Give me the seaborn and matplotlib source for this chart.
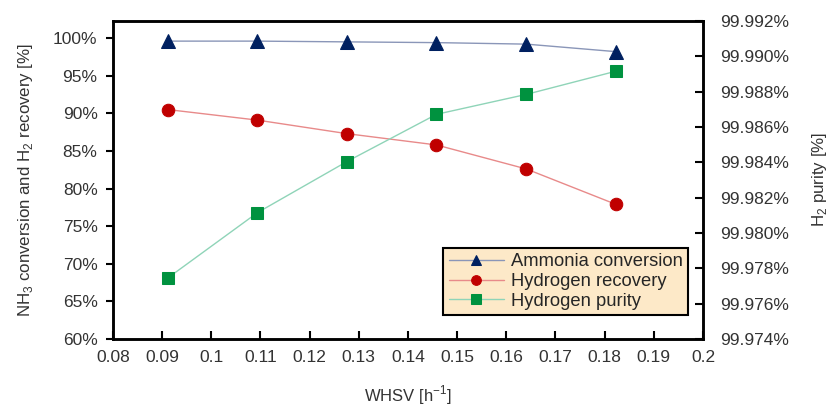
import matplotlib
matplotlib.use("Agg")
import matplotlib.pyplot as plt
import matplotlib.ticker as mticker
import pandas as pd
import seaborn as sns

whsv = [0.0912, 0.1094, 0.1276, 0.1458, 0.1641, 0.1823]
ammonia_conversion = [99.6, 99.6, 99.5, 99.4, 99.2, 98.2]
hydrogen_recovery = [90.5, 89.1, 87.3, 85.8, 82.6, 77.9]
hydrogen_purity = [99.97746, 99.98115, 99.98404, 99.98671, 99.98784, 99.98915]

df = pd.DataFrame({"whsv": whsv, "conv": ammonia_conversion,
                   "rec": hydrogen_recovery, "pur": hydrogen_purity})

sns.set_style("white")
plt.rcParams["font.family"] = ["Liberation Sans", "DejaVu Sans"]
plt.rcParams["font.size"] = 12
plt.rcParams["mathtext.fontset"] = "custom"
plt.rcParams["mathtext.rm"] = "Liberation Sans"

fig = plt.figure(figsize=(8.3, 4.08), dpi=100)
ax = fig.add_axes([0.136, 0.169, 0.711, 0.780])
ax2 = ax.twinx()

sns.lineplot(data=df, x="whsv", y="conv", ax=ax, color="#8a96b8", lw=1,
             marker="^", markersize=9.5, markerfacecolor="#002060",
             markeredgecolor="#002060", label="Ammonia conversion", legend=False)
sns.lineplot(data=df, x="whsv", y="rec", ax=ax, color="#e88a8a", lw=1,
             marker="o", markersize=9, markerfacecolor="#c00000",
             markeredgecolor="#c00000", label="Hydrogen recovery", legend=False)
sns.lineplot(data=df, x="whsv", y="pur", ax=ax2, color="#8fd4b8", lw=1,
             marker="s", markersize=8.5, markerfacecolor="#00923f",
             markeredgecolor="#00923f", label="Hydrogen purity", legend=False)

ax.set_xlim(0.08, 0.2)
ax.set_ylim(60, 102.3)
ax2.set_ylim(99.974, 99.992)
ax.set_xticks([0.08 + 0.01 * i for i in range(13)])
ax.xaxis.set_major_formatter(mticker.FuncFormatter(lambda v, p: f"{v:g}"))
ax.set_yticks(range(60, 101, 5))
ax.yaxis.set_major_formatter(mticker.FuncFormatter(lambda v, p: f"{v:.0f}%"))
ax2.set_yticks([99.974 + 0.002 * i for i in range(10)])
ax2.yaxis.set_major_formatter(mticker.FuncFormatter(lambda v, p: f"{v:.3f}%"))

ax.tick_params(axis="y", direction="out", length=5, width=1.5, colors="black",
               labelcolor="#333333", labelsize=12.5, left=True, pad=6)
ax.tick_params(axis="x", direction="in", length=6, width=1.5, colors="black",
               labelcolor="#333333", labelsize=12.5, bottom=True, pad=8)
ax2.tick_params(axis="y", direction="in", length=6, width=1.5, colors="black",
                labelcolor="#333333", labelsize=12.5, right=True, pad=12)

for a in (ax, ax2):
    for s in a.spines.values():
        s.set_linewidth(1.8)
        s.set_color("black")

ax.set_xlabel("WHSV [h$^{-1}$]", color="#333333", fontsize=12, labelpad=13)
ax.set_ylabel("NH$_3$ conversion and H$_2$ recovery [%]", color="#333333",
              fontsize=12.2, labelpad=13)
ax2.set_ylabel("H$_2$ purity [%]", color="#333333", fontsize=12.2, labelpad=15)

h1, l1 = ax.get_legend_handles_labels()
h2, l2 = ax2.get_legend_handles_labels()
leg = ax2.legend(h1 + h2, l1 + l2, loc="lower right", bbox_to_anchor=(0.975, 0.075),
                 borderaxespad=0, frameon=True, fancybox=False, fontsize=13.2,
                 handlelength=3.0, borderpad=0.3, labelspacing=0.15,
                 handletextpad=0.4, facecolor="#fde9c8", edgecolor="black",
                 framealpha=1)
leg.get_frame().set_linewidth(1.5)
for h in leg.legend_handles:
    h.set_markersize(7)

fig.savefig("out.png", dpi=100)
